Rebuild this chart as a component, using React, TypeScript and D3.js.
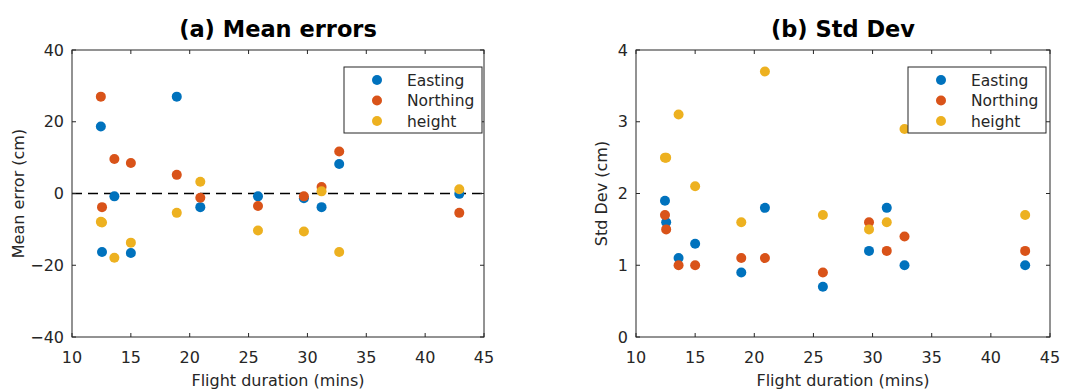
import React from 'react';
import * as d3 from 'd3';

// flight durations (mins), one per flight
const duration = [12.45, 12.55, 13.6, 15.0, 18.9, 20.9, 25.8, 29.7, 31.2, 32.7, 42.9];

// (a) mean errors, cm
const meanEasting = [18.7, -16.3, -0.8, -16.6, 27.0, -3.8, -0.8, -1.3, -3.8, 8.2, -0.1];
const meanNorthing = [27.0, -3.8, 9.6, 8.5, 5.2, -1.2, -3.5, -0.8, 1.8, 11.7, -5.4];
const meanHeight = [-7.9, -8.1, -17.9, -13.7, -5.4, 3.3, -10.3, -10.6, 0.6, -16.3, 1.2];

// (b) standard deviations, cm
const sdEasting = [1.9, 1.6, 1.1, 1.3, 0.9, 1.8, 0.7, 1.2, 1.8, 1.0, 1.0];
const sdNorthing = [1.7, 1.5, 1.0, 1.0, 1.1, 1.1, 0.9, 1.6, 1.2, 1.4, 1.2];
const sdHeight = [2.5, 2.5, 3.1, 2.1, 1.6, 3.7, 1.7, 1.5, 1.6, 2.9, 1.7];

const seriesNames = ['Easting', 'Northing', 'height'];
const colors = ['#0072BD', '#D95319', '#EDB120'];

const xTicks = [10, 15, 20, 25, 30, 35, 40, 45];
const meanTicks = [-40, -20, 0, 20, 40];
const sdTicks = [0, 1, 2, 3, 4];

const width = 1076;
const height = 390;
const font = '"DejaVu Sans", sans-serif';
const axisColor = '#262626';
const fs = 16;

type PanelProps = {
  left: number;
  right: number;
  top: number;
  bottom: number;
  title: string;
  yLabel: string;
  yDomain: [number, number];
  yTicks: number[];
  series: number[][];
  zeroLine?: boolean;
  legendX: number;
  yLabelX: number;
};

const fmt = (v: number) => (v < 0 ? '\u2212' + Math.abs(v) : String(v));

const Panel = ({ left, right, top, bottom, title, yLabel, yDomain, yTicks, series, zeroLine, legendX, yLabelX }: PanelProps) => {
  const x = d3.scaleLinear().domain([10, 45]).range([left, right]);
  const y = d3.scaleLinear().domain(yDomain).range([bottom, top]);
  const tl = 4;
  const cx = (left + right) / 2;
  return (
    <g>
      <text x={cx} y={37} textAnchor="middle" fontFamily={font} fontWeight="bold" fontSize={22.5} fill="#000">
        {title}
      </text>
      {zeroLine && (
        <line x1={left} x2={right} y1={y(0)} y2={y(0)} stroke="#000" strokeWidth={1.5} strokeDasharray="10,6" />
      )}
      {series.map((vals, si) => (
        <g key={si}>
          {vals.map((v, i) => (
            <circle key={i} cx={x(duration[i])} cy={y(v)} r={5} fill={colors[si]} />
          ))}
        </g>
      ))}
      <rect x={left} y={top} width={right - left} height={bottom - top} fill="none" stroke={axisColor} strokeWidth={1} />
      {xTicks.map(t => (
        <g key={t}>
          <line x1={x(t)} x2={x(t)} y1={bottom} y2={bottom - tl} stroke={axisColor} />
          <line x1={x(t)} x2={x(t)} y1={top} y2={top + tl} stroke={axisColor} />
          <text x={x(t)} y={363} textAnchor="middle" fontFamily={font} fontSize={fs} fill={axisColor}>
            {t}
          </text>
        </g>
      ))}
      {yTicks.map(t => (
        <g key={t}>
          <line x1={left} x2={left + tl} y1={y(t)} y2={y(t)} stroke={axisColor} />
          <line x1={right} x2={right - tl} y1={y(t)} y2={y(t)} stroke={axisColor} />
          <text x={left - 8} y={y(t) + 5.5} textAnchor="end" fontFamily={font} fontSize={fs} fill={axisColor}>
            {fmt(t)}
          </text>
        </g>
      ))}
      <text x={cx} y={386} textAnchor="middle" fontFamily={font} fontSize={fs} fill={axisColor}>
        Flight duration (mins)
      </text>
      <text
        transform={`translate(${yLabelX},${(top + bottom) / 2}) rotate(-90)`}
        textAnchor="middle"
        dy="0.35em"
        fontFamily={font}
        fontSize={fs}
        fill={axisColor}
      >
        {yLabel}
      </text>
      <g transform={`translate(${legendX},67)`}>
        <rect x={0} y={0} width={138} height={66} fill="#fff" stroke={axisColor} strokeWidth={1} />
        {seriesNames.map((name, i) => (
          <g key={name} transform={`translate(0,${13 + i * 20.5})`}>
            <circle cx={33} cy={0} r={5} fill={colors[i]} />
            <text x={63} y={5.5} fontFamily={font} fontSize={15.5} fill={axisColor}>
              {name}
            </text>
          </g>
        ))}
      </g>
    </g>
  );
};

export default function App() {
  return (
    <svg width={width} height={height} style={{ position: 'absolute', left: 0, top: 0, background: '#fff' }}>
      <Panel
        left={72}
        right={484}
        top={50}
        bottom={337}
        title="(a) Mean errors"
        yLabel="Mean error (cm)"
        yDomain={[-40, 40]}
        yTicks={meanTicks}
        series={[meanEasting, meanNorthing, meanHeight]}
        zeroLine
        legendX={344}
        yLabelX={18}
      />
      <Panel
        left={636}
        right={1050}
        top={50}
        bottom={337}
        title="(b) Std Dev"
        yLabel="Std Dev (cm)"
        yDomain={[0, 4]}
        yTicks={sdTicks}
        series={[sdEasting, sdNorthing, sdHeight]}
        legendX={908}
        yLabelX={601}
      />
    </svg>
  );
}
